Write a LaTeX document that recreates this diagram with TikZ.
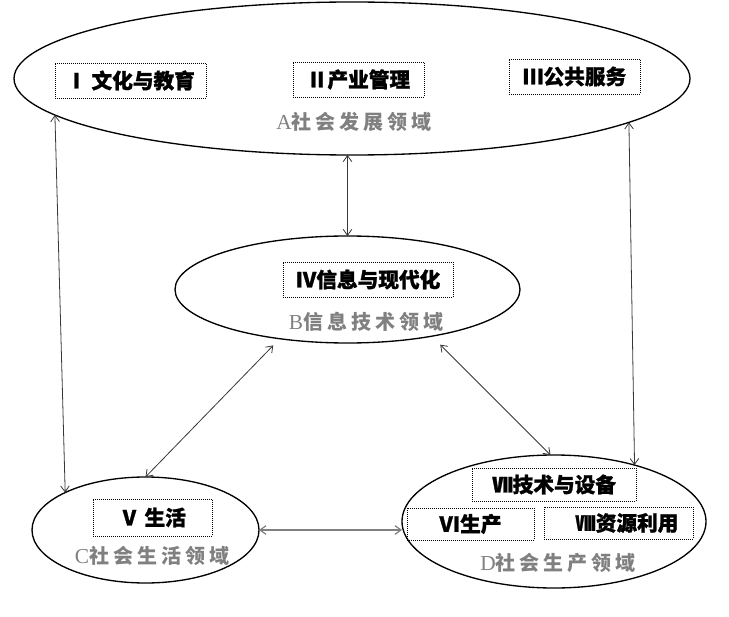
\documentclass[tikz,border=0pt]{standalone}
\usepackage{fontspec}
\newfontfamily\cjk{Noto Sans CJK SC}[BoldFeatures = {FakeBold = 1.2}]
\newfontfamily\cjklabel{Noto Sans CJK SC}[LetterSpace = 20]
\newfontfamily\latinserif{Liberation Serif}
\usetikzlibrary{shapes.geometric}
\usetikzlibrary{arrows.meta}
\usetikzlibrary{positioning}

\definecolor{areagray}{RGB}{128,128,128}
\definecolor{linkgray}{RGB}{55,55,55}

\begin{document}
\begin{tikzpicture}[x = 0.75pt, y = -0.75pt, line width = 0.6pt,
    field/.style = {draw, ellipse, line width = 1pt, inner sep = 0pt, outer sep = 0pt},
    item/.style = {draw, densely dotted, line width = 0.5pt, inner sep = 0pt,
        font = \cjk\bfseries\fontsize{15.5pt}{18pt}\selectfont},
    area/.style = {text = areagray, inner sep = 0pt,
        font = \cjklabel\bfseries\fontsize{15pt}{17pt}\selectfont},
    link/.style = {draw = linkgray,
        {Straight Barb[length = 4.5pt, width = 6.5pt]}-{Straight Barb[length = 4.5pt, width = 6.5pt]}}]

    \def\px{0.75pt}
    \def\letter#1{{\latinserif\mdseries\fontsize{16pt}{17pt}\selectfont #1}}
    \useasboundingbox (0,0) rectangle (729,617);

    % the four fields
    \foreach \NAME/\X/\Y/\W/\H in {A/352/78.5/676/153, B/347.5/289.5/345/107,
                                  C/145.5/530/227/106, D/554/521.5/304/133}
        {\node[field, minimum width = \W*\px, minimum height = \H*\px] (\NAME) at (\X,\Y) {};}

    % the items in them
    \foreach \NAME/\X/\Y/\W/\H/\TEXT in {
            itemI/130.5/80.5/151/35/{Ⅰ 文化与教育}, itemII/358.5/79.5/131/35/{Ⅱ产业管理},
            itemIII/574.5/76.5/131/35/{Ⅲ公共服务}, itemIV/368/279.5/170/35/{Ⅳ信息与现代化},
            itemV/152.5/517.5/119/37/{Ⅴ 生活}, itemVII/554/484.5/164/33/{Ⅶ技术与设备},
            itemVI/470.5/524/127/32/{Ⅵ生产}, itemVIII/618.5/523/149/32/{\hspace{0.8em}Ⅷ资源利用}}
        {\node[item, minimum width = \W*\px, minimum height = \H*\px] (\NAME) at (\X,\Y) {\TEXT};}

    % names of the fields
    \foreach \NAME/\X/\Y/\TEXT in {labA/354/122/{\letter{A}社会发展领域},
            labB/366/322/{\letter{B}信息技术领域}, labC/152/556/{\letter{C}社会生活领域},
            labD/558/563/{\letter{D}社会生产领域}}
        {\node[area] (\NAME) at (\X,\Y) {\TEXT};}

    \draw[link] (B.north |- A.south) -- (B.north);
    \draw[link] (A.187.7) -- (C.155.8);
    \draw[link] (A.-9) -- (D.35.7);
    \draw[link, shorten <= 7pt] (B.216) -- (C.north);
    \draw[link, shorten <= 9pt] (B.-29.4) -- (D.93);
    \draw[link, draw = gray, line width = 0.9pt] (C.east) -- (C.east -| D.west);

\end{tikzpicture}
\end{document}
